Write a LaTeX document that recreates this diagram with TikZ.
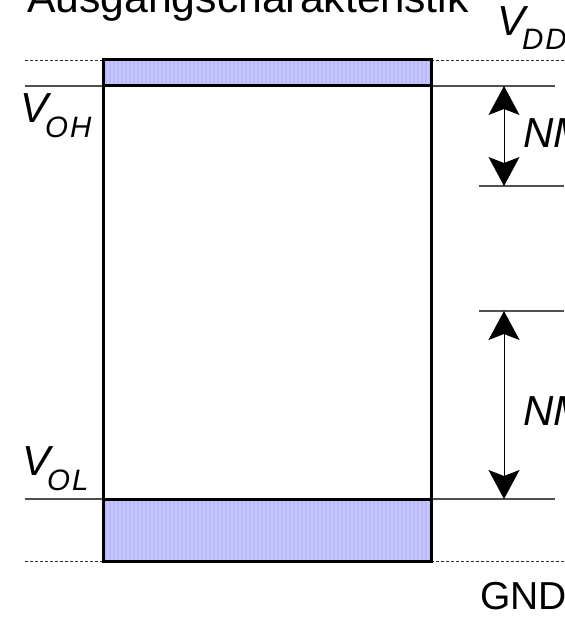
\documentclass[tikz,border=0pt]{standalone}
\usepackage{fontspec}
\setmainfont{Liberation Sans}
\usetikzlibrary{arrows.meta}
\definecolor{bandfill}{RGB}{197,197,255}
\definecolor{bandstripe}{RGB}{186,186,248}
\definecolor{levelgray}{RGB}{80,80,80}
\tikzset{
  band/.style={fill=bandfill},
  boxline/.style={draw=black, line width=3pt},
  level/.style={draw=levelgray, line width=1.3pt},
  rail/.style={draw=black!80, line width=0.9pt, dash pattern=on 3pt off 2pt},
  nmarrow/.style={draw=black, line width=1pt, {Stealth[length=29pt,width=31pt,inset=6pt]}-{Stealth[length=29pt,width=31pt,inset=6pt]}},
  lbl/.style={inner sep=0pt, anchor=base west},
}
\newcommand{\bigV}{\fontsize{42}{42}\selectfont\itshape}
\newcommand{\subV}{\fontsize{29.5}{29.5}\selectfont\itshape}
\begin{document}
\begin{tikzpicture}[x=1pt,y=-1pt]
\useasboundingbox (0,0) rectangle (564,617);
\clip (0,0) rectangle (564,617);
\fill[white] (0,0) rectangle (564,617);
% coordinates
\coordinate (tl) at (103,60);
\coordinate (tr) at (431,60);
\coordinate (ohl) at (103,86);
\coordinate (ohr) at (431,86);
\coordinate (oll) at (103,499);
\coordinate (olr) at (431,499);
\coordinate (bl) at (103,561);
\coordinate (br) at (431,561);
% bands
\fill[band] (tl) rectangle (ohr);
\fill[band] (oll) rectangle (br);
\foreach \x in {106,110,...,430} {
  \draw[bandstripe, line width=1.4pt] (\x,61) -- (\x,85);
  \draw[bandstripe, line width=1.4pt] (\x,500) -- (\x,560);
}
% dashed rails
\draw[rail] (25,60) -- (tl);
\draw[rail] (tr) -- (564,60);
\draw[rail] (25,561) -- (bl);
\draw[rail] (br) -- (564,561);
% level lines
\coordinate (ohE) at (555,86);
\coordinate (olE) at (555,499);
\coordinate (nmhB1) at (479,186);
\coordinate (nmhB2) at (564,186);
\coordinate (nmlT1) at (479,311);
\coordinate (nmlT2) at (564,311);
\draw[level] (25,86) -- (ohl);
\draw[level] (ohr) -- (ohE);
\draw[level] (25,499) -- (oll);
\draw[level] (olr) -- (olE);
\draw[level] (nmhB1) -- (nmhB2);
\draw[level] (nmlT1) -- (nmlT2);
% boxes
\draw[boxline] (tl) rectangle (br);
\draw[boxline] (ohl) -- (ohr);
\draw[boxline] (oll) -- (olr);
% noise margin arrows
\coordinate (a1) at (504,86);
\coordinate (a2) at (504,186);
\coordinate (a3) at (504,311);
\coordinate (a4) at (504,499);
\draw[nmarrow] (a1) -- (a2);
\draw[nmarrow] (a3) -- (a4);
% labels
\node[lbl] (title) at (27,13) {\fontsize{42.7}{42.7}\selectfont Ausgangscharakteristik};
\node[lbl] (vdd) at (497,36) {\bigV V\kern-3pt\raisebox{-14pt}{\subV D\kern2pt D}};
\node[lbl] (voh) at (20,123) {\bigV V\kern-3pt\raisebox{-15pt}{\subV O\kern2pt H}};
\node[lbl] (vol) at (22,475) {\bigV V\kern-3pt\raisebox{-15pt}{\subV O\kern2pt L}};
\node[lbl] (nmh) at (523,148) {\bigV NM};
\node[lbl] (nml) at (523,425) {\bigV NM};
\node[lbl] (gnd) at (480,609) {\fontsize{39}{39}\selectfont GND};
\end{tikzpicture}
\end{document}
